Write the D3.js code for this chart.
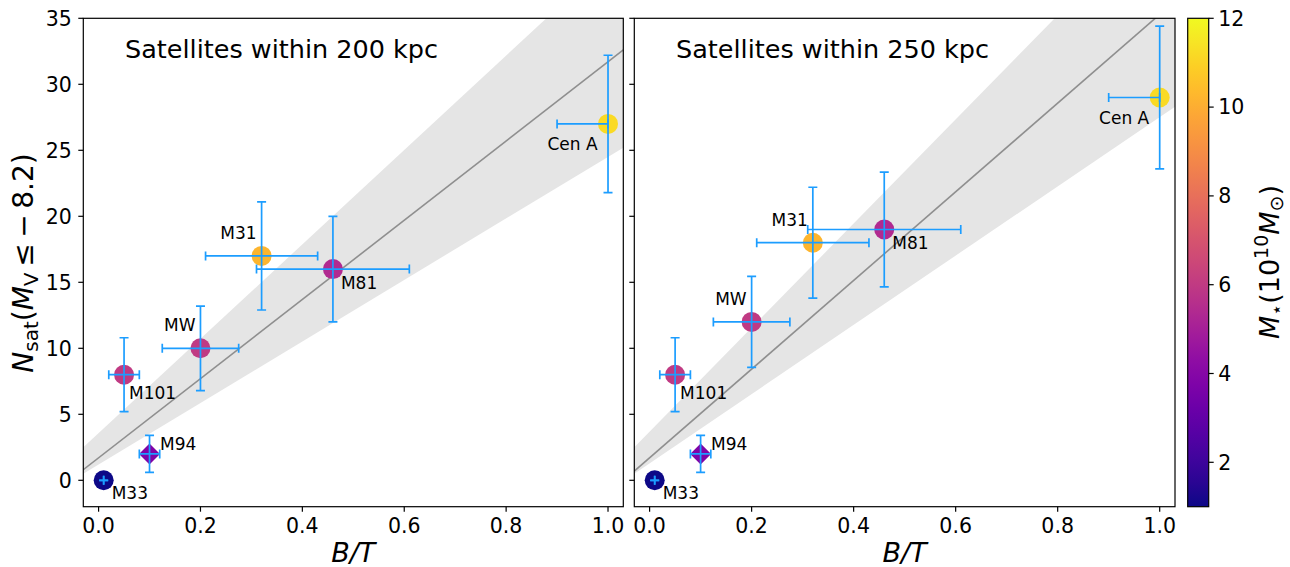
<!DOCTYPE html>
<html lang="en">
<head>
    <meta charset="UTF-8">
    <title>Satellites vs B/T</title>
    <style>
        body, html {
            margin: 0;
            padding: 0;
            background: #fff;
            overflow: hidden;
        }
        svg text {
            font-family: "DejaVu Sans", sans-serif;
            fill: #000;
        }
    </style>
</head>
<body>
    <script src="https://d3js.org/d3.v7.min.js"></script>
    <script>
        // galaxy data
        var names = ["M33", "M94", "M101", "MW", "M31", "M81", "Cen A"];
        var shapes = ["o", "D", "o", "o", "o", "o", "o"];
        var bt = [0.01, 0.1, 0.05, 0.2, 0.32, 0.46, 1.0];
        var btErrLo = [0, 0.02, 0.03, 0.075, 0.11, 0.15, 0.1];
        var btErrHi = [0, 0.02, 0.03, 0.075, 0.11, 0.15, 0.0];
        var mstar = [1.0, 3.8, 6.0, 6.0, 10.2, 5.4, 11.2];

        var nsat200 = [0, 2, 8, 10, 17, 16, 27];
        var nsatErr200 = [0, 1.4, 2.8, 3.2, 4.1, 4.0, 5.2];
        var nsat250 = [0, 2, 8, 12, 18, 19, 29];
        var nsatErr250 = [0, 1.4, 2.8, 3.45, 4.2, 4.35, 5.4];

        // fit line and band, read at x = -0.03 and 1.03
        var fitX = [-0.03, 1.03];
        var fit200 = [0.8, 32.6];
        var band200Lo = [0.5, 25.2];
        var band200Hi = [2.5, 40.4];
        var fit250 = [0.7, 36.3];
        var band250Lo = [0.5, 28.3];
        var band250Hi = [2.5, 44.3];

        var titles = ["Satellites within 200 kpc", "Satellites within 250 kpc"];
        var xTicks = [0.0, 0.2, 0.4, 0.6, 0.8, 1.0];
        var yTicks = [0, 5, 10, 15, 20, 25, 30, 35];
        var cTicks = [2, 4, 6, 8, 10, 12];

        // label placement relative to each marker (px)
        var labelPos = {
            "M33": [8, 19, "start"],
            "M94": [10.5, -4, "start"],
            "M101": [5, 24, "start"],
            "MW": [-5, -17, "end"],
            "M31": [-5, -16.5, "end"],
            "M81": [8, 19.5, "start"],
            "Cen A": [-10.5, 26.5, "end"]
        };

        var width = 1290, height = 567;
        var plotTop = 18.3, plotBottom = 506.7;
        var errColor = "#1c9dff";

        var svg = d3.select("body").append("svg")
            .attr("width", width)
            .attr("height", height);

        var color = d3.scaleSequential(d3.interpolatePlasma).domain([1, 12]);
        var y = d3.scaleLinear().domain([-2, 35]).range([plotBottom, plotTop]);

        var panels = [
            {x0: 83.3, x1: 623.3, n: nsat200, e: nsatErr200, fit: fit200, lo: band200Lo, hi: band200Hi},
            {x0: 634.3, x1: 1175, n: nsat250, e: nsatErr250, fit: fit250, lo: band250Lo, hi: band250Hi}
        ];

        panels.forEach(function(p, pi) {
            var x = d3.scaleLinear().domain([-0.03, 1.03]).range([p.x0, p.x1]);
            var g = svg.append("g");

            var clipId = "clip" + pi;
            svg.append("clipPath").attr("id", clipId)
                .append("rect")
                .attr("x", p.x0).attr("y", plotTop)
                .attr("width", p.x1 - p.x0).attr("height", plotBottom - plotTop);

            var plot = g.append("g").attr("clip-path", "url(#" + clipId + ")");

            // band
            var bandData = fitX.map(function(v, i) { return {x: v, lo: p.lo[i], hi: p.hi[i]}; });
            plot.append("path")
                .datum(bandData)
                .attr("d", d3.area().x(function(d) { return x(d.x); })
                    .y0(function(d) { return y(d.lo); })
                    .y1(function(d) { return y(d.hi); }))
                .attr("fill", "#e5e5e5");

            // fit line
            plot.append("path")
                .datum(fitX.map(function(v, i) { return [v, p.fit[i]]; }))
                .attr("d", d3.line().x(function(d) { return x(d[0]); }).y(function(d) { return y(d[1]); }))
                .attr("fill", "none")
                .attr("stroke", "#8f8f8f")
                .attr("stroke-width", 1.6);

            // markers
            names.forEach(function(name, i) {
                var cx = x(bt[i]), cy = y(p.n[i]);
                if (shapes[i] === "D") {
                    var r = 10.5;
                    plot.append("path")
                        .attr("d", "M" + cx + "," + (cy - r) + "L" + (cx + r) + "," + cy +
                            "L" + cx + "," + (cy + r) + "L" + (cx - r) + "," + cy + "Z")
                        .attr("fill", color(mstar[i]));
                } else {
                    plot.append("circle")
                        .attr("cx", cx).attr("cy", cy).attr("r", 10)
                        .attr("fill", color(mstar[i]));
                }
            });

            // error bars
            var cap = 4.5;
            names.forEach(function(name, i) {
                var cx = x(bt[i]), cy = y(p.n[i]);
                var xl = x(bt[i] - btErrLo[i]), xr = x(bt[i] + btErrHi[i]);
                var yt = y(p.n[i] + p.e[i]), yb = y(p.n[i] - p.e[i]);
                var eb = plot.append("g").attr("stroke", errColor).attr("stroke-width", 1.7);
                eb.append("line").attr("x1", xl).attr("x2", xr).attr("y1", cy).attr("y2", cy);
                eb.append("line").attr("x1", cx).attr("x2", cx).attr("y1", yt).attr("y2", yb);
                [xl, xr].forEach(function(xx) {
                    eb.append("line").attr("x1", xx).attr("x2", xx).attr("y1", cy - cap).attr("y2", cy + cap);
                });
                [yt, yb].forEach(function(yy) {
                    eb.append("line").attr("x1", cx - cap).attr("x2", cx + cap).attr("y1", yy).attr("y2", yy);
                });
            });

            // labels
            names.forEach(function(name, i) {
                var lp = labelPos[name];
                g.append("text")
                    .attr("x", x(bt[i]) + lp[0])
                    .attr("y", y(p.n[i]) + lp[1])
                    .attr("text-anchor", lp[2])
                    .attr("font-size", 17)
                    .text(name);
            });

            // title
            g.append("text")
                .attr("x", p.x0 + 41.7)
                .attr("y", 58)
                .attr("font-size", 25.5)
                .text(titles[pi]);

            // frame
            g.append("rect")
                .attr("x", p.x0).attr("y", plotTop)
                .attr("width", p.x1 - p.x0).attr("height", plotBottom - plotTop)
                .attr("fill", "none").attr("stroke", "#000").attr("stroke-width", 1.2);

            // x ticks
            xTicks.forEach(function(t) {
                g.append("line").attr("x1", x(t)).attr("x2", x(t))
                    .attr("y1", plotBottom).attr("y2", plotBottom + 5)
                    .attr("stroke", "#000").attr("stroke-width", 1.2);
                g.append("text").attr("x", x(t)).attr("y", 533)
                    .attr("text-anchor", "middle").attr("font-size", 20.5)
                    .text(d3.format(".1f")(t));
            });

            // y ticks
            yTicks.forEach(function(t) {
                g.append("line").attr("x1", p.x0 - 5).attr("x2", p.x0)
                    .attr("y1", y(t)).attr("y2", y(t))
                    .attr("stroke", "#000").attr("stroke-width", 1.2);
                if (pi === 0) {
                    g.append("text").attr("x", p.x0 - 11.5).attr("y", y(t))
                        .attr("dy", "0.36em")
                        .attr("text-anchor", "end").attr("font-size", 20.5)
                        .text(t);
                }
            });

            // x label
            g.append("text")
                .attr("x", (p.x0 + p.x1) / 2)
                .attr("y", 562)
                .attr("text-anchor", "middle")
                .attr("font-size", 27)
                .attr("font-style", "italic")
                .text("B/T");
        });

        // y label
        var yl = svg.append("text")
            .attr("transform", "translate(33,263) rotate(-90)")
            .attr("text-anchor", "middle")
            .attr("font-size", 28);
        yl.append("tspan").attr("font-style", "italic").text("N");
        yl.append("tspan").attr("font-size", 20).attr("dy", 5).text("sat");
        yl.append("tspan").attr("dy", -5).text("(");
        yl.append("tspan").attr("font-style", "italic").text("M");
        yl.append("tspan").attr("font-size", 20).attr("dy", 5).text("V");
        yl.append("tspan").attr("dy", -5).text("\u2009\u2264\u2009\u2212\u20098.2)");

        // colorbar
        var cb = {x: 1187.7, w: 21};
        var cScale = d3.scaleLinear().domain([1, 12]).range([plotBottom, plotTop]);
        var grad = svg.append("defs").append("linearGradient")
            .attr("id", "cbgrad")
            .attr("x1", 0).attr("y1", 1).attr("x2", 0).attr("y2", 0);
        d3.range(0, 1.0001, 0.05).forEach(function(t) {
            grad.append("stop").attr("offset", t).attr("stop-color", d3.interpolatePlasma(t));
        });
        svg.append("rect")
            .attr("x", cb.x).attr("y", plotTop)
            .attr("width", cb.w).attr("height", plotBottom - plotTop)
            .attr("fill", "url(#cbgrad)")
            .attr("stroke", "#000").attr("stroke-width", 1.2);
        cTicks.forEach(function(t) {
            svg.append("line").attr("x1", cb.x + cb.w).attr("x2", cb.x + cb.w + 5)
                .attr("y1", cScale(t)).attr("y2", cScale(t))
                .attr("stroke", "#000").attr("stroke-width", 1.2);
            svg.append("text").attr("x", 1218.3).attr("y", cScale(t))
                .attr("dy", "0.36em").attr("font-size", 20.5)
                .text(t);
        });

        var cl = svg.append("text")
            .attr("transform", "translate(1279,262) rotate(-90)")
            .attr("text-anchor", "middle")
            .attr("font-size", 27);
        cl.append("tspan").attr("font-style", "italic").text("M");
        cl.append("tspan").attr("font-size", 19).attr("dy", 4).text("\u22c6");
        cl.append("tspan").attr("dy", -4).text("(10");
        cl.append("tspan").attr("font-size", 19).attr("dy", -11).text("10");
        cl.append("tspan").attr("dy", 11).attr("font-style", "italic").text("M");
        cl.append("tspan").attr("font-size", 19).attr("dy", 4).text("\u2299");
        cl.append("tspan").attr("dy", -4).text(")");
    </script>
</body>
</html>
